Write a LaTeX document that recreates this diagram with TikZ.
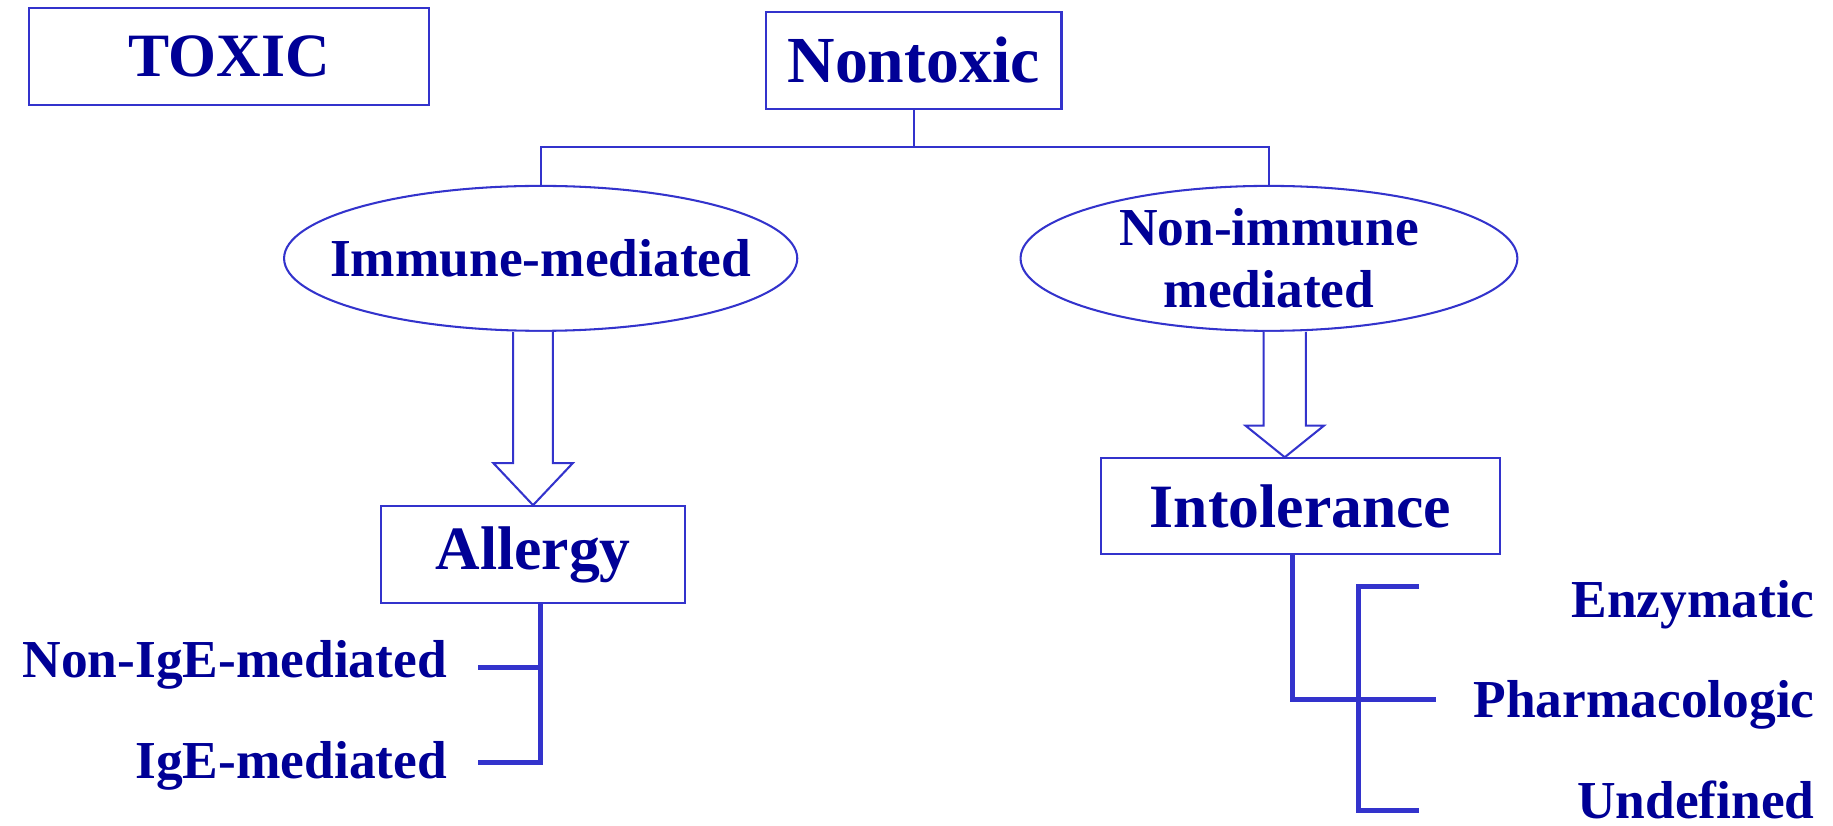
\documentclass[tikz,border=0pt]{standalone}
\usepackage{fontspec}
\setmainfont{Liberation Serif}
\usetikzlibrary{calc, positioning, shapes.geometric}
\definecolor{lineblue}{RGB}{51, 51, 204}
\definecolor{textnavy}{RGB}{0, 0, 150}

\begin{document}
\begin{tikzpicture}[
  box/.style={rectangle, draw=lineblue, line width=0.5pt, inner sep=0pt, text=textnavy,
    font=\fontsize{15}{18}\selectfont\bfseries},
  oval/.style={ellipse, draw=lineblue, line width=0.5pt, inner sep=0pt, minimum height=1.24cm,
    text=textnavy, align=center, font=\fontsize{13}{15}\selectfont\bfseries},
  item/.style={inner sep=0pt, text=textnavy, font=\fontsize{13}{15}\selectfont\bfseries},
  link/.style={draw=lineblue, line width=0.5pt},
  bracket/.style={draw=lineblue, line width=1.2pt},
  hollow/.style={draw=lineblue, line width=0.5pt, fill=white, line join=miter}
]
  \useasboundingbox (0,0) rectangle (15.68,-7.06);

  % --- Top row ---
  \node[box, minimum width=3.42cm, minimum height=0.83cm] (toxic) at (1.96,-0.485) {TOXIC};
  \node[box, minimum width=2.53cm, minimum height=0.83cm, font=\fontsize{16}{18}\selectfont\bfseries]
    (nontox) at (7.815,-0.515) {Nontoxic};

  % --- Second row: mechanisms ---
  \node[oval, minimum width=4.39cm, inner xsep=-0.3cm] (imm) at (4.625,-2.21) {Immune-mediated};
  \node[oval, minimum width=4.25cm] (nonimm) at (10.855,-2.21) {Non-immune\\mediated};
  \draw[link] (nontox.south) -- ++(0,-0.32) -| (imm.north);
  \draw[link] (nontox.south) -- ++(0,-0.32) -| (nonimm.north);

  % --- Third row ---
  \node[box, minimum width=2.60cm, minimum height=0.83cm] (allergy) at (4.56,-4.745) {Allergy};
  \node[box, minimum width=3.41cm, minimum height=0.82cm] (intol) at (11.125,-4.33) {Intolerance};

  % hollow arrows
  \draw[hollow] ($(imm.south -| allergy.north)+(-0.17,0)$) -- ($(allergy.north)+(-0.17,0.36)$)
    -- ++(-0.17,0) -- (allergy.north) -- ($(allergy.north)+(0.34,0.36)$) -- ++(-0.17,0)
    -- ($(imm.south -| allergy.north)+(0.17,0)$);
  \coordinate (intip) at ($(intol.north)+(-0.135,0)$);
  \draw[hollow] ($(nonimm.south -| intip)+(-0.18,0)$) -- ($(intip)+(-0.18,0.27)$)
    -- ++(-0.155,0) -- (intip) -- ($(intip)+(0.335,0.27)$) -- ++(-0.155,0)
    -- ($(nonimm.south -| intip)+(0.18,0)$);

  % --- Allergy branches ---
  \node[item, anchor=east] (nonige) at (3.83,-5.69) {Non-IgE-mediated};
  \node[item, anchor=east] (ige) at (3.83,-6.55) {IgE-mediated};
  \coordinate (allspine) at (4.62,0);
  \coordinate (nonige-end) at (4.09,-5.71);
  \coordinate (ige-end) at (4.09,-6.52);
  \draw[bracket] (allergy.south -| allspine) -- (ige-end -| allspine) -- (ige-end);
  \draw[bracket] (nonige-end) -- (nonige-end -| allspine);

  % --- Intolerance branches ---
  \node[item, anchor=east] (enz) at (15.53,-5.17) {Enzymatic};
  \node[item, anchor=east] (pharm) at (15.53,-6.03) {Pharmacologic};
  \node[item, anchor=east] (undef) at (15.53,-6.84) {Undefined};
  \coordinate (spine) at (11.62,0);
  \coordinate (enz-end) at (12.14,-5.02);
  \coordinate (pharm-end) at (12.28,-5.98);
  \coordinate (undef-end) at (12.14,-6.93);
  \draw[bracket] ($(intol.south)+(-0.065,0)$) |- (pharm-end);
  \draw[bracket] (enz-end) -- (enz-end -| spine) -- (undef-end -| spine) -- (undef-end);
\end{tikzpicture}
\end{document}
